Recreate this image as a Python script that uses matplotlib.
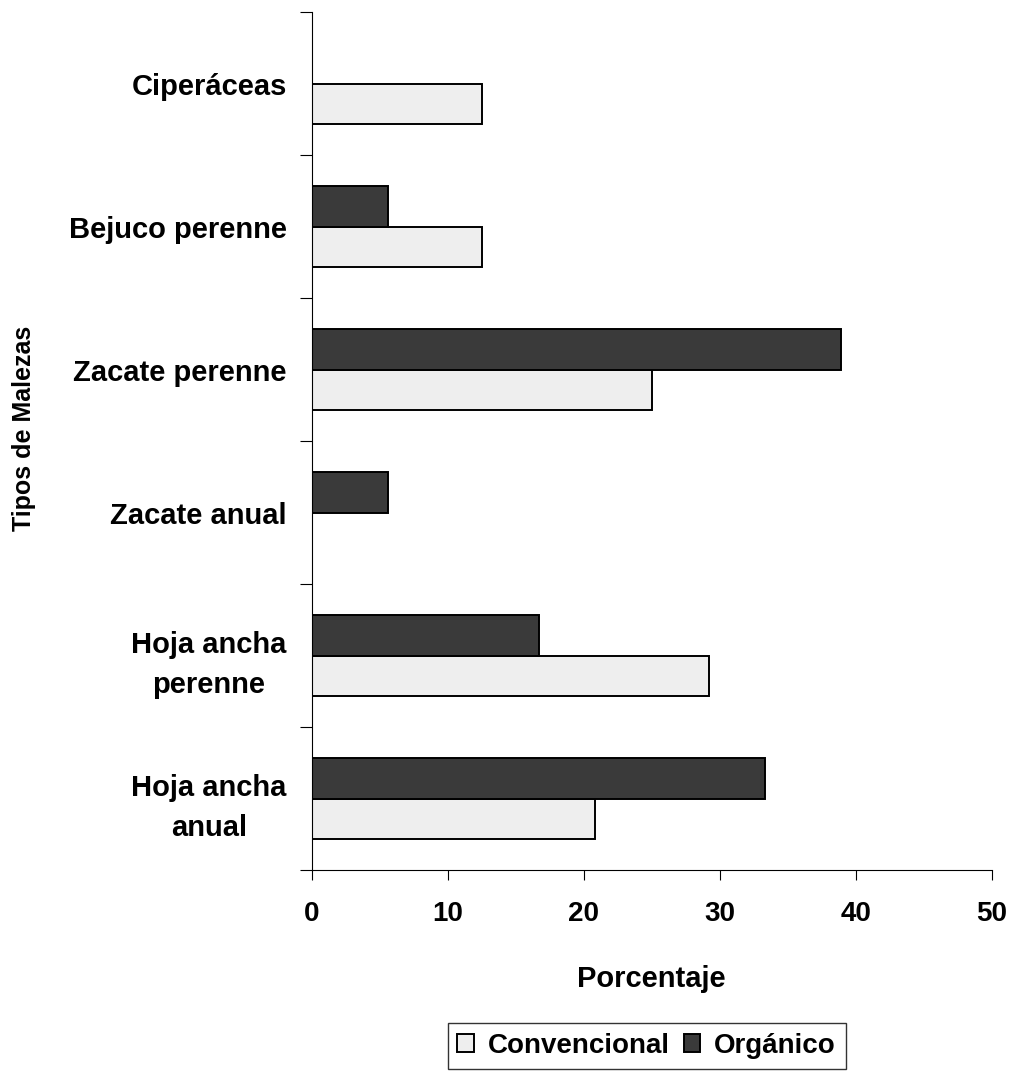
import numpy as np
import matplotlib
matplotlib.use('Agg')
import matplotlib.pyplot as plt

plt.rcParams['font.family'] = ['Liberation Sans', 'DejaVu Sans']
plt.rcParams['font.weight'] = 'bold'

categorias = ['Hoja ancha\nanual', 'Hoja ancha\nperenne', 'Zacate anual',
              'Zacate perenne', 'Bejuco perenne', 'Ciperáceas']
convencional = [20.8, 29.2, 0.0, 25.0, 12.5, 12.5]
organico = [33.3, 16.7, 5.6, 38.9, 5.6, 0.0]

fig = plt.figure(figsize=(10.12, 10.72), dpi=100)
ax = fig.add_axes([0.308, 0.1884, 0.672, 0.8004])

y = np.arange(len(categorias)) + 0.5
h = 0.285
ax.barh(y - h / 2, convencional, height=h, color='#eeeeee', edgecolor='black',
        linewidth=1.4, label='Convencional')
ax.barh(y + h / 2, organico, height=h, color='#3a3a3a', edgecolor='black',
        linewidth=1.4, label='Orgánico')

ax.set_ylim(0, 6)
ax.set_xlim(0, 50)
ax.set_xticks([0, 10, 20, 30, 40, 50])
ax.set_yticks(np.arange(0, 7))
ax.set_yticklabels([])
ax.set_yticks(y, minor=True)
ax.set_yticklabels(categorias, minor=True, fontsize=21, fontweight='bold',
                   multialignment='center', linespacing=1.55)
ax.tick_params(axis='y', which='minor', length=0, pad=18)
ax.tick_params(axis='y', which='major', length=9, direction='out', width=0.8)
ax.tick_params(axis='x', length=7, direction='out', width=0.8, pad=15,
               labelsize=20)
for t in ax.get_xticklabels():
    t.set_fontweight('bold')

for s in ['top', 'right']:
    ax.spines[s].set_visible(False)
for s in ['left', 'bottom']:
    ax.spines[s].set_linewidth(0.8)

ax.set_xlabel('Porcentaje', fontsize=21, fontweight='bold', labelpad=28)
ax.set_ylabel('Tipos de Malezas', fontsize=18, fontweight='bold')
ax.yaxis.set_label_coords(-0.405, 0.515)

leg = fig.legend(loc='center', bbox_to_anchor=(0.639, 0.0243), ncol=2,
                 frameon=True, fancybox=False, handlelength=0.6,
                 handleheight=0.6, handletextpad=0.5, columnspacing=0.5,
                 borderpad=0.35, borderaxespad=0.0,
                 prop={'weight': 'bold', 'size': 20})
leg.get_frame().set_edgecolor('black')
leg.get_frame().set_linewidth(1.0)

fig.savefig('out.png', dpi=100)
